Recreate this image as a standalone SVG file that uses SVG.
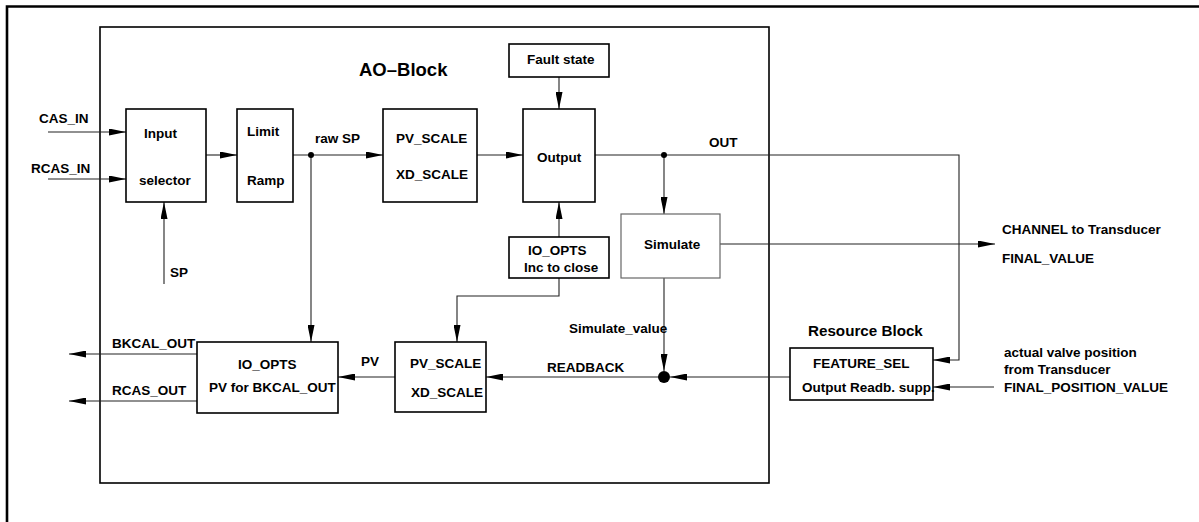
<svg xmlns="http://www.w3.org/2000/svg" width="1199" height="522" viewBox="0 0 1199 522">
<style>
.box{fill:#fff;stroke:#000;stroke-width:1.6}
.thin{fill:#fff;stroke:#666;stroke-width:1.2}
.frame{fill:none;stroke:#000;stroke-width:2.6}
.c{fill:none;stroke:#222;stroke-width:1.1}
.a{marker-end:url(#ah)}
text{font-family:"Liberation Sans",Arial,Helvetica,sans-serif;font-size:13.5px;font-weight:bold;fill:#000}
.big{font-size:18.5px}
.mid{font-size:15.2px}
</style>
<defs>
<marker id="ah" viewBox="0 0 17 7" refX="17" refY="3.5" markerWidth="17" markerHeight="7" markerUnits="userSpaceOnUse" orient="auto">
<path d="M0,0 L17,3.5 L0,7 Z" fill="#000"/>
</marker>
</defs>
<rect width="1199" height="522" fill="#fff"/>
<path class="frame" d="M7,522 V6.5 H1199"/>

<g id="ao-block">
<rect x="100" y="27" width="669" height="456" fill="none" stroke="#000" stroke-width="1.6"/>
<text class="big" x="359" y="76">AO–Block</text>
</g>

<g id="connectors">
<path class="c a" d="M48,132 H126"/>
<path class="c a" d="M48,179 H126"/>
<path class="c a" d="M206,155 H237"/>
<path class="c a" d="M293,155 H383"/>
<path class="c a" d="M311,155 V342"/>
<path class="c a" d="M477,155 H523"/>
<path class="c a" d="M559,77 V109"/>
<path class="c a" d="M595,155 H959 V360 H933"/>
<path class="c a" d="M664,155 V214"/>
<path class="c a" d="M720,244 H995"/>
<path class="c a" d="M559,237 V202"/>
<path class="c a" d="M559,278 V296 H457 V342"/>
<path class="c a" d="M664,278 V371"/>
<path class="c a" d="M790,377 H670"/>
<path class="c a" d="M664,377 H486"/>
<path class="c a" d="M994,387 H933"/>
<path class="c a" d="M395,377 H338"/>
<path class="c a" d="M197,354 H69"/>
<path class="c a" d="M197,401 H69"/>
<path class="c a" d="M164,284 V202"/>
<circle cx="311" cy="155" r="3" fill="#000"/>
<circle cx="664" cy="155" r="3" fill="#000"/>
<circle cx="664" cy="377" r="6" fill="#000"/>
</g>

<g id="labels">
<text x="39" y="123">CAS_IN</text>
<text x="31" y="173">RCAS_IN</text>
<text x="315" y="143">raw SP</text>
<text x="709" y="147">OUT</text>
<text x="170" y="277">SP</text>
<text x="1002" y="234">CHANNEL to Transducer</text>
<text x="1002" y="263">FINAL_VALUE</text>
<text x="569" y="333">Simulate_value</text>
<text x="547" y="372">READBACK</text>
<text x="361" y="366">PV</text>
<text x="112" y="348">BKCAL_OUT</text>
<text x="112" y="395">RCAS_OUT</text>
<text x="1004" y="357">actual valve position</text>
<text x="1004" y="374">from Transducer</text>
<text x="1004" y="392">FINAL_POSITION_VALUE</text>
</g>

<g id="input-selector">
<rect class="box" x="126" y="109" width="80" height="93"/>
<text x="144" y="138">Input</text>
<text x="139" y="185">selector</text>
</g>

<g id="limit-ramp">
<rect class="box" x="237" y="109" width="56" height="93"/>
<text x="247" y="136">Limit</text>
<text x="247" y="185">Ramp</text>
</g>

<g id="scale-top">
<rect class="box" x="383" y="109" width="94" height="93"/>
<text x="396" y="143">PV_SCALE</text>
<text x="396" y="179">XD_SCALE</text>
</g>

<g id="output">
<rect class="box" x="523" y="109" width="72" height="93"/>
<text x="537" y="162">Output</text>
</g>

<g id="fault-state">
<rect class="box" x="509" y="44" width="100" height="33"/>
<text x="527" y="64">Fault state</text>
</g>

<g id="simulate">
<rect class="thin" x="621" y="214" width="99" height="64"/>
<text x="644" y="249">Simulate</text>
</g>

<g id="io-opts-inc">
<rect class="box" x="509" y="237" width="100" height="41"/>
<text x="528" y="255">IO_OPTS</text>
<text x="524" y="272">Inc to close</text>
</g>

<g id="scale-bottom">
<rect class="box" x="395" y="342" width="91" height="70"/>
<text x="410" y="368">PV_SCALE</text>
<text x="411" y="397">XD_SCALE</text>
</g>

<g id="io-opts-pv">
<rect class="box" x="197" y="342" width="141" height="71"/>
<text x="238" y="369">IO_OPTS</text>
<text x="209" y="392">PV for BKCAL_OUT</text>
</g>

<g id="resource-block">
<text class="mid" x="808" y="336">Resource Block</text>
<rect class="box" x="790" y="348" width="143" height="52"/>
<text x="813" y="368">FEATURE_SEL</text>
<text x="802" y="392">Output Readb. supp.</text>
</g>
</svg>
